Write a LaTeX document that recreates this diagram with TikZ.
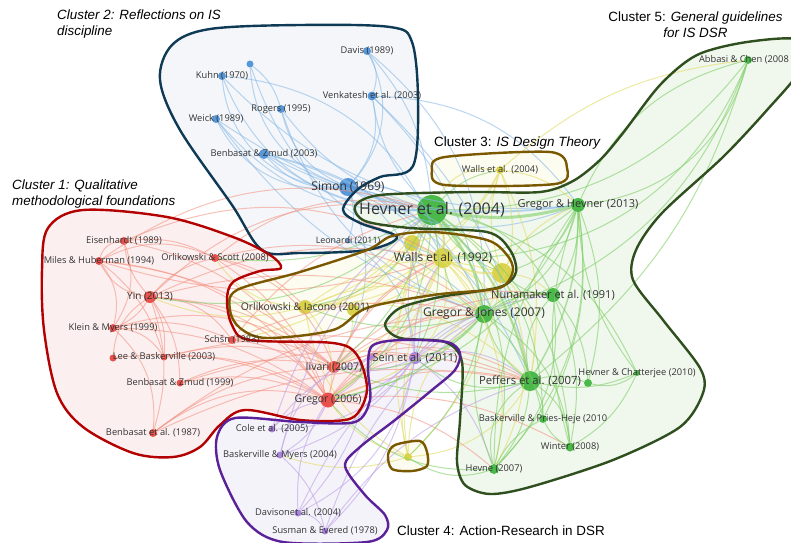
\documentclass[tikz,border=0pt]{standalone}
\usepackage{fontspec}
\newfontfamily\lblfont{Open Sans}
\newfontfamily\ttlfont{Liberation Sans}
\definecolor{cB}{HTML}{4A90D9}\definecolor{cBe}{HTML}{8BBBE8}
\definecolor{cG}{HTML}{3DB33D}\definecolor{cGe}{HTML}{7FCF68}
\definecolor{cY}{HTML}{D6CF3C}\definecolor{cYe}{HTML}{E3DE70}
\definecolor{cR}{HTML}{E8453F}\definecolor{cRe}{HTML}{F2907E}
\definecolor{cP}{HTML}{A37BDB}\definecolor{cPe}{HTML}{BFA3E6}
\definecolor{hTwo}{HTML}{0E3A55}\definecolor{fTwo}{HTML}{F4F6F9}
\definecolor{hFive}{HTML}{2F4F1F}\definecolor{fFive}{HTML}{F0F7ED}
\definecolor{hThree}{HTML}{7A5800}\definecolor{fThree}{HTML}{FDFCF0}
\definecolor{hOne}{HTML}{B30000}\definecolor{fOne}{HTML}{FCEFF0}
\definecolor{hFour}{HTML}{5B2199}\definecolor{fFour}{HTML}{F5F3FA}
\definecolor{lblgray}{HTML}{333333}
\tikzset{
  vdot/.style={circle, inner sep=0pt, fill=#1, fill opacity=0.92, draw=none},
  lbl/.style={font=\lblfont\fontsize{#1}{#1}\selectfont, text=lblgray, inner sep=0pt},
  lbl/.default=9.3,
  ttl/.style={font=\ttlfont\fontsize{13.4}{16}\selectfont, inner sep=0pt, text=black},
  hull/.style={line width=2.4pt, line join=round},
  eblue/.style={draw=cBe, draw opacity=0.6, line width=1pt},
  egreen/.style={draw=cGe, draw opacity=0.6, line width=1pt},
  eyel/.style={draw=cYe, draw opacity=0.65, line width=1pt},
  ered/.style={draw=cRe, draw opacity=0.55, line width=1pt},
  epur/.style={draw=cPe, draw opacity=0.6, line width=1pt},
}
\newcommand\hullTwo[1]{\path[#1] plot[smooth cycle, tension=0.55] coordinates {(160,80) (172,45) (210,29) (300,25) (390,27) (412,42) (418,100) (413,166) (380,177) (357,190) (343,210) (360,223) (397,237) (367,250) (300,253) (262,250) (232,205) (180,130)};}
\newcommand\hullFive[1]{\path[#1] plot[smooth cycle, tension=0.5] coordinates {(747,42) (697,55) (660,85) (623,133) (600,160) (573,181) (540,192) (470,192) (380,195) (355,206) (365,221) (410,228) (487,232) (510,250) (516,272) (500,287) (440,297) (400,308) (385,325) (400,338) (445,342) (462,362) (460,420) (457,462) (465,485) (490,494) (530,487) (613,460) (680,427) (703,393) (700,368) (663,320) (633,280) (636,250) (662,213) (723,157) (767,110) (800,70) (800,40)};}
\newcommand\hullThree[1]{\path[#1] plot[smooth cycle, tension=0.55] coordinates {(392,236) (433,232) (487,240) (507,255) (513,270) (505,285) (487,290) (433,295) (367,308) (333,330) (267,338) (240,328) (230,310) (237,290) (300,272) (367,250)};}
\newcommand\hullThreeB[1]{\path[#1] plot[smooth cycle, tension=0.5] coordinates {(432,170) (445,157) (550,152) (567,168) (555,184) (445,185)};}
\newcommand\hullThreeC[1]{\path[#1] plot[smooth cycle, tension=0.5] coordinates {(388,455) (395,445) (420,441) (427,452) (427,466) (412,471) (392,469)};}
\newcommand\hullOne[1]{\path[#1] plot[smooth cycle, tension=0.55] coordinates {(42,270) (48,228) (83,210) (167,217) (233,237) (270,255) (281,268) (260,271) (233,282) (227,300) (232,325) (250,340) (333,343) (357,355) (367,387) (360,410) (345,420) (300,420) (245,410) (220,425) (200,447) (173,457) (133,453) (83,427) (57,393) (44,330)};}
\newcommand\hullFour[1]{\path[#1] plot[smooth cycle, tension=0.5] coordinates {(372,346) (400,340) (447,342) (460,353) (455,370) (432,390) (395,420) (360,447) (345,466) (365,495) (385,515) (387,530) (367,542) (283,542) (247,522) (220,470) (217,437) (235,418) (300,422) (355,422) (370,400) (368,370)};}
\begin{document}
\begin{tikzpicture}[x=1pt,y=-1pt]
\useasboundingbox (0,0) rectangle (791,542);
\clip (0,0) rectangle (791,542);
\fill[white] (0,0) rectangle (791,542);
% hull fills
\hullTwo{fill=fTwo}
\hullFive{fill=fFive}
\hullOne{fill=fOne}
\hullFour{fill=fFour}
\hullThree{fill=fThree}
\hullThreeB{fill=fThree}
\hullThreeC{fill=fThree}
% nodes (dots)
\node[vdot=cB, minimum size=7pt] (b0) at (250,64) {};
\node[vdot=cB, minimum size=8pt] (kuhn) at (222,76) {};
\node[vdot=cB, minimum size=8pt] (davis) at (367,51) {};
\node[vdot=cB, minimum size=9pt] (venk) at (372,96) {};
\node[vdot=cB, minimum size=8pt] (rogers) at (281,109) {};
\node[vdot=cB, minimum size=8pt] (weick) at (216,119) {};
\node[vdot=cB, minimum size=10pt] (bz03) at (264,154) {};
\node[vdot=cB, minimum size=18pt] (simon) at (348,187) {};
\node[vdot=cB, minimum size=5pt] (leon) at (348,241) {};
\node[vdot=cY, minimum size=8pt] (w04) at (500,170) {};
\node[vdot=cY, minimum size=16pt] (y1) at (412,243) {};
\node[vdot=cY, minimum size=20pt] (w92) at (443,258) {};
\node[vdot=cY, minimum size=20pt] (y2) at (502,273) {};
\node[vdot=cY, minimum size=14pt] (oi) at (305,307) {};
\node[vdot=cY, minimum size=12pt] (oi2) at (353,310) {};
\node[vdot=cY, minimum size=8pt] (ysolo) at (408,457) {};
\node[vdot=cG, minimum size=30pt] (hev04) at (432,210) {};
\node[vdot=cG, minimum size=14pt] (gh13) at (578,205) {};
\node[vdot=cG, minimum size=8pt] (abb) at (748,60) {};
\node[vdot=cG, minimum size=14pt] (nun) at (553,295) {};
\node[vdot=cG, minimum size=18pt] (gj07) at (484,314) {};
\node[vdot=cG, minimum size=20pt] (pef) at (530,381) {};
\node[vdot=cG, minimum size=6pt] (hc10) at (637,373) {};
\node[vdot=cG, minimum size=8pt] (g2) at (588,383) {};
\node[vdot=cG, minimum size=8pt] (bph) at (543,419) {};
\node[vdot=cG, minimum size=9pt] (winter) at (570,447) {};
\node[vdot=cG, minimum size=10pt] (hevne) at (494,469) {};
\node[vdot=cR, minimum size=8pt] (eis) at (124,241) {};
\node[vdot=cR, minimum size=8pt] (miles) at (99,261) {};
\node[vdot=cR, minimum size=8pt] (os08) at (215,258) {};
\node[vdot=cR, minimum size=12pt] (yin) at (150,297) {};
\node[vdot=cR, minimum size=8pt] (klein) at (113,328) {};
\node[vdot=cR, minimum size=8pt] (schon) at (232,340) {};
\node[vdot=cR, minimum size=7pt] (lee) at (164,357) {};
\node[vdot=cR, minimum size=7pt] (r1) at (113,358) {};
\node[vdot=cR, minimum size=7pt] (bz99) at (180,383) {};
\node[vdot=cR, minimum size=8pt] (ben87) at (153,433) {};
\node[vdot=cR, minimum size=12pt] (iiv) at (334,367) {};
\node[vdot=cR, minimum size=15pt] (greg06) at (328,400) {};
\node[vdot=cP, minimum size=12pt] (sein) at (415,358) {};
\node[vdot=cP, minimum size=8pt] (sein2) at (372,357) {};
\node[vdot=cP, minimum size=7pt] (cole) at (272,429) {};
\node[vdot=cP, minimum size=7pt] (bm04) at (280,455) {};
\node[vdot=cP, minimum size=7pt] (dav) at (298,513) {};
\node[vdot=cP, minimum size=7pt] (sus) at (325,531) {};
% edges
\foreach \a/\b/\c in {simon/kuhn/25, simon/weick/20, simon/rogers/15, simon/bz03/15, simon/davis/-20, simon/venk/-15, simon/b0/20, simon/hev04/10, simon/w92/15, simon/gh13/-15, simon/leon/10, simon/pef/20, simon/gj07/15, davis/venk/15, davis/hev04/10, venk/hev04/-10, venk/gh13/15, venk/gj07/10, kuhn/hev04/-20, kuhn/gh13/-15, weick/hev04/-15, weick/gj07/-10, weick/gh13/-12, rogers/hev04/-10, rogers/gj07/-15, b0/rogers/10, b0/w92/-15, bz03/hev04/-10, bz03/gh13/-10, bz03/w92/10, bz03/pef/15, leon/gj07/10, leon/sein/15, simon/sein/20, simon/iiv/15, venk/pef/10, davis/gj07/15, kuhn/w92/20}
  {\pgfmathsetmacro\bb{1.7*\c}\draw[eblue] (\a) to[bend left=\bb] (\b);}
\foreach \a/\b/\c in {w04/w92/10, w04/y1/15, w04/y2/-10, w04/hev04/-20, w04/gj07/15, w04/oi/15, w04/pef/10, w92/y1/15, w92/y2/15, w92/oi/10, w92/oi2/10, w92/gj07/10, w92/pef/15, w92/greg06/10, w92/sein/15, w92/iiv/10, y2/nun/10, y2/pef/15, y2/hevne/15, oi/yin/10, oi/os08/15, oi/greg06/15, oi2/iiv/10, ysolo/w92/10, ysolo/gj07/15, ysolo/hev04/10, ysolo/oi/15, ysolo/pef/-15, ysolo/sein/10, ysolo/bm04/10, y1/oi/15, y2/gh13/10, y1/schon/10, y1/gj07/10, y2/oi/-15, oi/hev04/-10, w92/hevne/15, y1/greg06/15, w04/gh13/10, w04/abb/10, oi/gj07/15, oi/pef/15, y2/greg06/10, ysolo/greg06/10, ysolo/y2/-10}
  {\pgfmathsetmacro\bb{1.7*\c}\draw[eyel] (\a) to[bend left=\bb] (\b);}
\foreach \a/\b/\c in {yin/eis/10, yin/miles/15, yin/os08/10, yin/klein/10, yin/schon/15, yin/lee/10, yin/bz99/10, yin/ben87/10, yin/greg06/15, yin/iiv/10, yin/hev04/15, yin/w92/10, miles/eis/20, miles/klein/15, miles/os08/15, miles/lee/10, miles/greg06/15, eis/klein/15, eis/greg06/15, os08/greg06/10, os08/iiv/15, os08/oi/10, os08/hev04/15, klein/lee/15, klein/greg06/10, klein/ben87/15, klein/schon/10, schon/greg06/15, schon/iiv/10, schon/hev04/10, lee/greg06/10, bz99/greg06/10, bz99/iiv/10, ben87/greg06/15, ben87/iiv/10, ben87/gj07/10, greg06/iiv/20, greg06/gj07/10, greg06/pef/10, greg06/sein/10, greg06/w92/15, greg06/nun/15, iiv/gj07/10, iiv/pef/15, iiv/sein/10, iiv/w92/10, lee/iiv/10, bz99/pef/10, eis/w92/15, miles/hev04/15, greg06/hevne/10, greg06/winter/10, iiv/nun/15, schon/gj07/10, r1/yin/15, r1/greg06/10, miles/iiv/10, eis/os08/10, klein/iiv/15, os08/gj07/15, ben87/pef/10, yin/gj07/10, miles/w92/-10, lee/pef/10}
  {\pgfmathsetmacro\bb{1.7*\c}\draw[ered] (\a) to[bend left=\bb] (\b);}
\foreach \a/\b/\c in {sein/pef/15, sein/gj07/10, sein/hev04/10, sein/greg06/10, sein/iiv/10, sein/cole/15, sein/bm04/10, sein/dav/15, sein/sus/10, sein/w92/10, sein2/iiv/10, sein2/dav/10, dav/sus/15, bm04/sus/10, cole/greg06/10, cole/sein2/10, bm04/iiv/10, dav/greg06/10, sus/pef/10, cole/hev04/10, sus/gj07/10, bm04/hev04/10, dav/gj07/10, sein/hevne/10, sein/nun/10, bm04/greg06/-10, sein2/greg06/10}
  {\pgfmathsetmacro\bb{1.7*\c}\draw[epur] (\a) to[bend left=\bb] (\b);}
\foreach \a/\b/\c in {hev04/nun/15, hev04/w92/10, hev04/y1/10, hev04/y2/-10, hev04/oi/15, hev04/greg06/15, hev04/iiv/10, hev04/sein/10, hev04/hevne/15, hev04/winter/15, hev04/bph/15, hev04/hc10/15, hev04/abb/-15, hev04/w04/10, hev04/yin/15, hev04/os08/10, gh13/abb/-20, gh13/abb/15, gh13/gj07/15, gh13/nun/10, gh13/hevne/15, gh13/winter/-10, gh13/bph/10, gh13/hc10/-10, gh13/g2/10, gh13/greg06/15, abb/gj07/15, abb/pef/10, abb/w92/20, pef/gj07/10, pef/nun/15, pef/hevne/10, pef/winter/15, pef/bph/10, pef/hc10/-10, pef/g2/10, pef/sein/15, pef/iiv/10, gj07/nun/10, gj07/hevne/-10, gj07/winter/15, gj07/bph/10, gj07/greg06/10, gj07/w92/15, nun/hevne/15, nun/winter/10, nun/g2/10, hevne/bph/10, winter/bph/10, hc10/g2/15, hc10/winter/10, gh13/w92/10, gj07/oi/10, hevne/greg06/15, gj07/ysolo/10, hevne/ysolo/15, nun/gj07/-15, pef/hevne/-20, gh13/hevne/-10, gj07/sein/10, nun/y2/10, gh13/y2/15, gj07/iiv/15}
  {\pgfmathsetmacro\bb{1.7*\c}\draw[egreen] (\a) to[bend left=\bb] (\b);}
\draw[egreen, line width=3pt] (hev04) to[bend left=-12] (gh13);
\draw[egreen, line width=2pt] (hev04) to[bend left=15] (pef);
\draw[egreen, line width=2pt] (hev04) to[bend left=15] (gj07);
\draw[egreen, line width=1.5pt] (gh13) to[bend left=15] (pef);
\draw[eyel, line width=2pt] (w92) to[bend left=-15] (hev04);
\draw[eyel, line width=2pt] (w92) to[bend left=-15] (y2);
% hull outlines
\hullTwo{draw=hTwo, hull}
\hullFive{draw=hFive, hull}
\hullOne{draw=hOne, hull}
\hullFour{draw=hFour, hull}
\hullThree{draw=hThree, hull}
\hullThreeB{draw=hThree, hull}
\hullThreeC{draw=hThree, hull}
% labels
\node[lbl] at (kuhn) {Kuhn (1970)};
\node[lbl] at (davis) {Davis (1989)};
\node[lbl] at (venk) {Venkatesh et al. (2003)};
\node[lbl] at (rogers) {Rogers (1995)};
\node[lbl] at (weick) {Weick (1989)};
\node[lbl] at (bz03) {Benbasat \& Zmud (2003)};
\node[lbl=12] at (simon) {Simon (1969)};
\node[lbl=8.9] at (leon) {Leonardi (2011)};
\node[lbl] at (w04) {Walls et al. (2004)};
\node[lbl=12] at (w92) {Walls et al. (1992)};
\node[lbl=10.4] at (oi) {Orlikowski \& Iacono (2001)};
\node[lbl=16] at (hev04) {Hevner et al. (2004)};
\node[lbl=11] at (gh13) {Gregor \& Hevner (2013)};
\node[lbl, anchor=east] at (789,60) {Abbasi \& Chen (2008};
\node[lbl=11] at (nun) {Nunamaker et al. (1991)};
\node[lbl=12] at (gj07) {Gregor \& Jones (2007)};
\node[lbl=11.3] at (pef) {Peffers et al. (2007)};
\node[lbl] at (hc10) {Hevner \& Chatterjee (2010)};
\node[lbl] at (bph) {Baskerville \& Pries-Heje (2010};
\node[lbl] at (winter) {Winter (2008)};
\node[lbl] at (hevne) {Hevne (2007)};
\node[lbl] at (eis) {Eisenhardt (1989)};
\node[lbl] at (miles) {Miles \& Huberman (1994)};
\node[lbl] at (os08) {Orlikowski \& Scott (2008)};
\node[lbl=10] at (yin) {Yin (2013)};
\node[lbl] at (klein) {Klein \& Myers (1999)};
\node[lbl] at (schon) {Schšn (1983)};
\node[lbl] at (lee) {Lee \& Baskerville (2003)};
\node[lbl] at (bz99) {Benbasat \& Zmud (1999)};
\node[lbl] at (ben87) {Benbasat et al. (1987)};
\node[lbl=10.5] at (iiv) {Iivari (2007)};
\node[lbl=10.5] at (greg06) {Gregor (2006)};
\node[lbl=11] at (sein) {Sein et al. (2011)};
\node[lbl] at (cole) {Cole et al. (2005)};
\node[lbl] at (bm04) {Baskerville \& Myers (2004)};
\node[lbl] at (dav) {Davisonet al. (2004)};
\node[lbl] at (sus) {Susman \& Evered (1978)};
% cluster titles
\node[ttl, anchor=base west] at (57,19) {\itshape Cluster 2: Reflections on IS};
\node[ttl, anchor=base west] at (57,35.5) {\itshape discipline};
\node[ttl, anchor=base west] at (12,189.3) {\itshape Cluster 1: Qualitative};
\node[ttl, anchor=base west] at (12,205.7) {\itshape methodological foundations};
\node[ttl, anchor=base west] at (434,146.5) {Cluster 3: \itshape IS Design Theory};
\node[ttl, anchor=base] at (695.5,21.7) {Cluster 5: \itshape General guidelines};
\node[ttl, anchor=base] at (695.5,37.5) {\itshape for IS DSR};
\node[ttl, anchor=base west] at (397,535) {Cluster 4: Action-Research in DSR};
\end{tikzpicture}
\end{document}
